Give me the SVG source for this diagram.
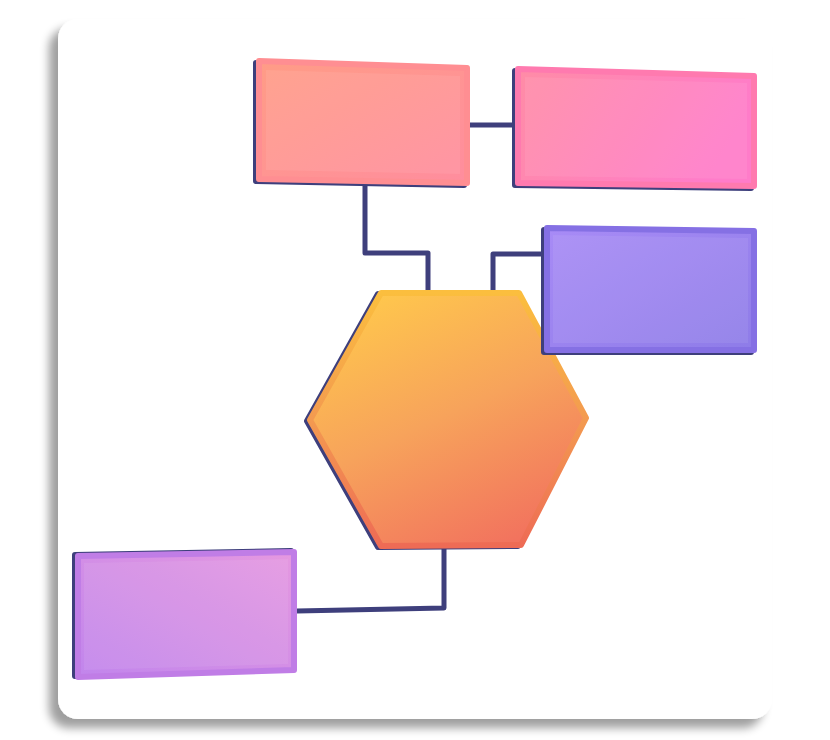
<svg xmlns="http://www.w3.org/2000/svg" width="830" height="740" viewBox="0 0 830 740">
  <defs>
    <filter id="cardShadow" x="-10%" y="-10%" width="120%" height="120%">
      <feGaussianBlur in="SourceAlpha" stdDeviation="5"/>
      <feOffset dx="-9" dy="9" result="b"/>
      <feComponentTransfer><feFuncA type="linear" slope="0.38"/></feComponentTransfer>
      <feMerge><feMergeNode/><feMergeNode in="SourceGraphic"/></feMerge>
    </filter>
    <linearGradient id="g1" x1="0" y1="0" x2="1" y2="1">
      <stop offset="0" stop-color="#FF9C86"/>
      <stop offset="1" stop-color="#FF8D9E"/>
    </linearGradient>
    <linearGradient id="g2" x1="0" y1="0" x2="1" y2="0.3">
      <stop offset="0" stop-color="#FF8CA6"/>
      <stop offset="1" stop-color="#FF7CC9"/>
    </linearGradient>
    <linearGradient id="g3" x1="0" y1="0" x2="1" y2="1">
      <stop offset="0" stop-color="#A88BF6"/>
      <stop offset="1" stop-color="#8E7CE8"/>
    </linearGradient>
    <linearGradient id="g4" x1="1" y1="0" x2="0" y2="1">
      <stop offset="0" stop-color="#E598E0"/>
      <stop offset="1" stop-color="#C185EC"/>
    </linearGradient>
    <linearGradient id="gh" x1="0.2" y1="0" x2="0.7" y2="1">
      <stop offset="0" stop-color="#FFC84C"/>
      <stop offset="0.5" stop-color="#F7A35B"/>
      <stop offset="1" stop-color="#F2735E"/>
    </linearGradient>
    <linearGradient id="ghs" x1="0" y1="0" x2="0" y2="1">
      <stop offset="0" stop-color="#FBBE3E"/>
      <stop offset="0.5" stop-color="#F39A50"/>
      <stop offset="1" stop-color="#EE6B55"/>
    </linearGradient>
    <style>
      .conn{fill:none;stroke:#3E3F7C;stroke-width:5;stroke-linejoin:round;stroke-linecap:butt}
      .back{fill:#3E3F7C;stroke:#3E3F7C;stroke-width:6;stroke-linejoin:round}
      .face{stroke-width:6;stroke-linejoin:round}
      .inner{fill:#ffffff;opacity:0.07}
    </style>
  </defs>

  <rect x="58" y="19" width="714" height="700" rx="20" fill="#ffffff" filter="url(#cardShadow)"/>

  <g id="connectors">
    <path class="conn" d="M470,125 L513,125"/>
    <path class="conn" d="M365,184 L365,253 L428,253 L428,292"/>
    <path class="conn" d="M493,292 L493,254 L544,254"/>
    <path class="conn" d="M444,546 L444,608 L297,611"/>
  </g>

  <g id="node-top-left">
    <path class="back" d="M259,61 L467,68 L467,183 L259,179 Z" transform="translate(-3,2)"/>
    <path class="face" fill="url(#g1)" stroke="#FF8E92" d="M259,61 L467,68 L467,183 L259,179 Z"/>
    <path class="inner" d="M266,70 L460,76 L460,174 L266,170 Z"/>
  </g>

  <g id="node-top-right">
    <path class="back" d="M518,69 L754,76 L754,186 L518,183 Z" transform="translate(-3,2)"/>
    <path class="face" fill="url(#g2)" stroke="#FF7AAF" d="M518,69 L754,76 L754,186 L518,183 Z"/>
    <path class="inner" d="M525,77 L747,83 L747,179 L525,176 Z"/>
  </g>

  <g id="node-hexagon">
    <path class="back" d="M381,293 L519,293 L586,418 L521,545 L381,546 L310,420 Z" transform="translate(-3,1)"/>
    <path class="face" fill="url(#gh)" stroke="url(#ghs)" d="M381,293 L519,293 L586,418 L521,545 L381,546 L310,420 Z"/>
  </g>

  <g id="node-right">
    <path class="back" d="M547,228 L754,231 L754,350 L547,350 Z" transform="translate(-3,2)"/>
    <path class="face" fill="url(#g3)" stroke="#8570E4" d="M547,228 L754,231 L754,350 L547,350 Z"/>
    <path class="inner" d="M553,235 L748,238 L748,343 L553,343 Z"/>
  </g>

  <g id="node-bottom-left">
    <path class="back" d="M78,556 L294,552 L294,670 L78,677 Z" transform="translate(-3,-1)"/>
    <path class="face" fill="url(#g4)" stroke="#C07DE6" d="M78,556 L294,552 L294,670 L78,677 Z"/>
    <path class="inner" d="M84,563 L288,559 L288,664 L84,670 Z"/>
  </g>
</svg>
